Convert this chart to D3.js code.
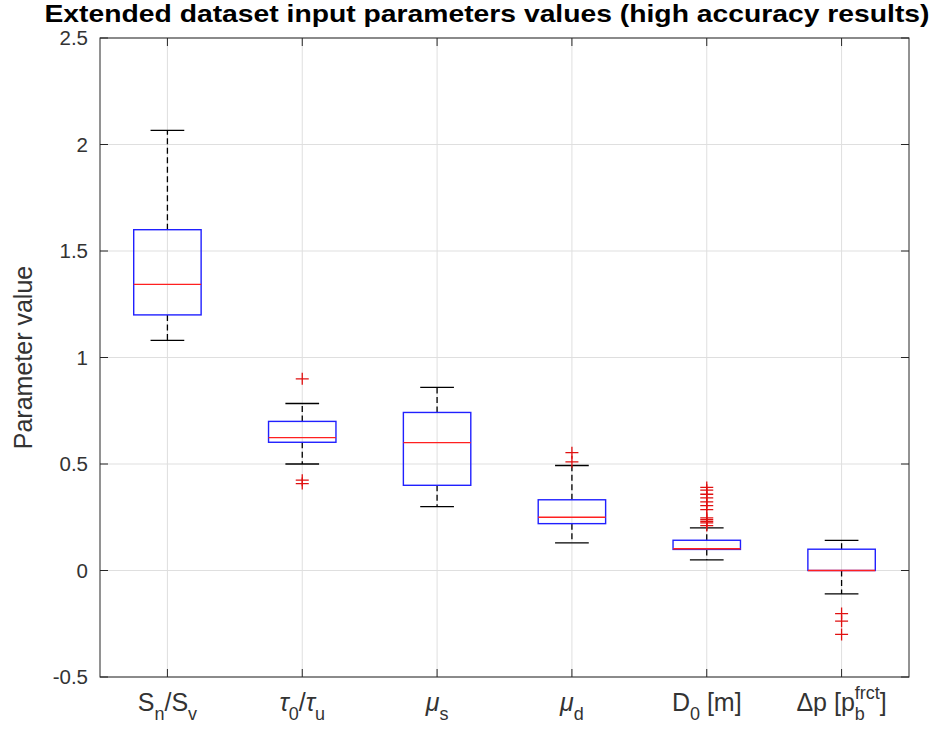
<!DOCTYPE html>
<html><head><meta charset="utf-8">
<script src="https://cdn.jsdelivr.net/npm/d3@7"></script>
<style>body{margin:0;background:#fff}svg{display:block}text{white-space:pre}</style>
</head><body>
<svg id="c" width="935" height="732"></svg>
<script>
const categories = ["S_{n}/S_{v}", "\u03c4_{0}/\u03c4_{u}", "\u03bc_{s}", "\u03bc_{d}", "D_{0} [m]", "\u0394p [p_{b}^{frct}]"];
const lowerWhisker = [1.08, 0.50, 0.30, 0.13, 0.05, -0.11];
const q1 = [1.20, 0.602, 0.40, 0.22, 0.099, 0.00];
const medians = [1.343, 0.624, 0.60, 0.25, 0.102, 0.00];
const q3 = [1.60, 0.70, 0.742, 0.332, 0.142, 0.10];
const upperWhisker = [2.066, 0.784, 0.86, 0.493, 0.20, 0.141];
const outliers = [
  [],
  [0.90, 0.424, 0.408],
  [],
  [0.553, 0.51],
  [0.39, 0.377, 0.358, 0.341, 0.322, 0.305, 0.286, 0.247, 0.239, 0.231, 0.224, 0.211],
  [-0.202, -0.238, -0.30]
];
const yTicks = [-0.5, 0, 0.5, 1, 1.5, 2, 2.5];
const yTickLabels = ["-0.5", "0", "0.5", "1", "1.5", "2", "2.5"];
const title = "Extended dataset input parameters values (high accuracy results)";
const yLabel = "Parameter value";

const svg = d3.select("#c");
const L = 100, R = 909, T = 38, B = 677;
const x = d3.scaleLinear().domain([0.5, categories.length + 0.5]).range([L, R]);
const y = d3.scaleLinear().domain([-0.5, 2.5]).range([B, T]);
const axisCol = "#262626";
const font = "Liberation Sans, Arial, sans-serif";
const idx = d3.range(categories.length);

// grid
const g = svg.append("g");
g.selectAll(".gy").data(yTicks).join("line")
  .attr("x1", L).attr("x2", R).attr("y1", d => y(d)).attr("y2", d => y(d))
  .attr("stroke", "#dfdfdf").attr("stroke-width", 1);
g.selectAll(".gx").data(idx).join("line")
  .attr("x1", i => x(i + 1)).attr("x2", i => x(i + 1)).attr("y1", T).attr("y2", B)
  .attr("stroke", "#dfdfdf").attr("stroke-width", 1);

// boxes
const bw = 0.5, cw = 0.25;
const bx = svg.append("g");
idx.forEach(i => {
  const c = i + 1;
  bx.append("line").attr("x1", x(c)).attr("x2", x(c)).attr("y1", y(q3[i])).attr("y2", y(upperWhisker[i]))
    .attr("stroke", "#000").attr("stroke-width", 1.3).attr("stroke-dasharray", "6,3.5");
  bx.append("line").attr("x1", x(c)).attr("x2", x(c)).attr("y1", y(q1[i])).attr("y2", y(lowerWhisker[i]))
    .attr("stroke", "#000").attr("stroke-width", 1.3).attr("stroke-dasharray", "6,3.5");
  [upperWhisker[i], lowerWhisker[i]].forEach(v => {
    bx.append("line").attr("x1", x(c - cw / 2)).attr("x2", x(c + cw / 2)).attr("y1", y(v)).attr("y2", y(v))
      .attr("stroke", "#000").attr("stroke-width", 1.3);
  });
  bx.append("rect").attr("x", x(c - bw / 2)).attr("width", x(c + bw / 2) - x(c - bw / 2))
    .attr("y", y(q3[i])).attr("height", Math.max(0.5, y(q1[i]) - y(q3[i])))
    .attr("fill", "none").attr("stroke", "#2020ff").attr("stroke-width", 1.4);
  bx.append("line").attr("x1", x(c - bw / 2)).attr("x2", x(c + bw / 2)).attr("y1", y(medians[i])).attr("y2", y(medians[i]))
    .attr("stroke", "#ff2020").attr("stroke-width", 1.3);
  outliers[i].forEach(v => {
    const px = x(c), py = y(v), sx = 6.5, sy = 6;
    bx.append("path").attr("d", `M${px - sx},${py}H${px + sx}M${px},${py - sy}V${py + sy}`)
      .attr("stroke", "#e01010").attr("stroke-width", 1.3).attr("fill", "none");
  });
});

// frame
svg.append("rect").attr("x", L).attr("y", T).attr("width", R - L).attr("height", B - T)
  .attr("fill", "none").attr("stroke", axisCol).attr("stroke-width", 1);

// ticks
const tk = 8;
const tg = svg.append("g").attr("stroke", axisCol).attr("stroke-width", 1);
yTicks.forEach(v => {
  tg.append("line").attr("x1", L).attr("x2", L + tk).attr("y1", y(v)).attr("y2", y(v));
  tg.append("line").attr("x1", R).attr("x2", R - tk).attr("y1", y(v)).attr("y2", y(v));
});
idx.forEach(i => {
  tg.append("line").attr("x1", x(i + 1)).attr("x2", x(i + 1)).attr("y1", B).attr("y2", B - tk);
  tg.append("line").attr("x1", x(i + 1)).attr("x2", x(i + 1)).attr("y1", T).attr("y2", T + tk);
});

// y tick labels
svg.append("g").selectAll("text").data(yTicks).join("text")
  .attr("x", L - 12).attr("y", d => y(d)).attr("dy", "0.36em")
  .attr("text-anchor", "end").attr("font-family", font)
  .attr("font-size", 20.5).attr("fill", "#333").text((d, i) => yTickLabels[i]);

// y label
svg.append("text").attr("transform", `translate(32,${(T + B) / 2}) rotate(-90)`)
  .attr("text-anchor", "middle").attr("font-family", font)
  .attr("font-size", 25).attr("fill", "#333").text(yLabel);

// title
svg.append("text").attr("x", 487).attr("y", 22).attr("text-anchor", "middle")
  .attr("font-family", font).attr("font-weight", "bold")
  .attr("font-size", 24).attr("fill", "#000")
  .attr("textLength", 885).attr("lengthAdjust", "spacingAndGlyphs").text(title);

// x labels with sub/superscripts
function parse(s) {
  const out = []; let k = 0; let buf = "";
  while (k < s.length) {
    const ch = s[k];
    if ((ch === "_" || ch === "^") && s[k + 1] === "{") {
      if (buf) { out.push({ t: buf, m: "n" }); buf = ""; }
      const e = s.indexOf("}", k);
      out.push({ t: s.slice(k + 2, e), m: ch === "_" ? "sub" : "sup" });
      k = e + 1;
    } else { buf += ch; k++; }
  }
  if (buf) out.push({ t: buf, m: "n" });
  return out;
}
const fs = 25, fsSmall = 18;
const baseY = 711;
categories.forEach((lab, i) => {
  const segs = parse(lab);
  const grp = svg.append("g");
  let cx = 0, prevSubW = null;
  segs.forEach((sg, j) => {
    const parts = sg.t.split(/([\u03b1-\u03c9])/).filter(p => p !== "");
    let startX = cx;
    if (sg.m === "sup" && j > 0 && segs[j - 1].m === "sub") startX = cx - prevSubW;
    let px = startX;
    parts.forEach(p => {
      const greek = /[\u03b1-\u03c9]/.test(p);
      const t = grp.append("text").attr("x", px)
        .attr("y", baseY + (sg.m === "sub" ? 9 : sg.m === "sup" ? -12 : 0))
        .attr("font-family", font)
        .attr("font-style", greek ? "italic" : "normal")
        .attr("font-size", sg.m === "n" ? fs : fsSmall).attr("fill", "#333").text(p);
      px += t.node().getComputedTextLength();
    });
    const w = px - startX;
    if (sg.m === "sub") prevSubW = w;
    cx = Math.max(cx, px);
  });
  grp.attr("transform", `translate(${x(i + 1) - cx / 2},0)`);
});
</script>
</body></html>
